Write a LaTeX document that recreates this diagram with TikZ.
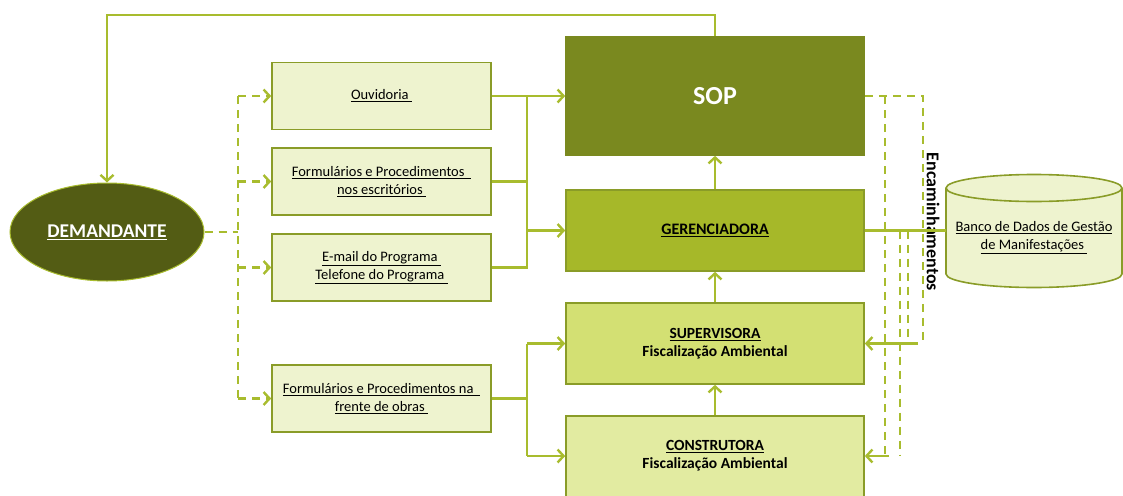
\documentclass[tikz,border=0pt]{standalone}
\usepackage{fontspec}
\setmainfont{Carlito}
\usetikzlibrary{arrows.meta,shapes.geometric}
\definecolor{ln}{HTML}{A8BC2E}
\definecolor{bd}{HTML}{8A9C28}
\definecolor{sopc}{HTML}{7A891F}
\definecolor{gerc}{HTML}{A6B829}
\definecolor{supc}{HTML}{D3E073}
\definecolor{conc}{HTML}{E2EBA1}
\definecolor{boxc}{HTML}{EEF3CF}
\definecolor{demc}{HTML}{535C14}
\tikzset{
  sl/.style={draw=ln, line width=2.4pt},
  dl/.style={draw=ln, line width=2.4pt, dash pattern=on 8pt off 6pt},
  tip/.style={-{Straight Barb[length=6pt,width=13pt,line width=2.4pt]}},
  smallbox/.style={rectangle, draw=bd, line width=1.6pt, fill=boxc, minimum width=219pt, minimum height=67pt, align=center, font=\fontsize{14.5}{18}\selectfont, inner sep=0pt},
  bigbox/.style={rectangle, draw=bd, line width=1.6pt, minimum width=298pt, minimum height=81pt, align=center, font=\bfseries\fontsize{15.5}{18}\selectfont, inner sep=0pt},
}
\newcommand{\ul}[1]{\underline{#1}}
\begin{document}
\begin{tikzpicture}[x=1pt,y=-1pt]
\useasboundingbox (0,0) rectangle (1123,495);
\clip (0,0) rectangle (1123,495);
% nodes
\node[bigbox, fill=sopc, draw=sopc, minimum height=118pt, text=white, font=\bfseries\fontsize{26}{30}\selectfont] (sop) at (715,96) {SOP};
\node[bigbox, fill=gerc, font=\bfseries\fontsize{16}{19}\selectfont] (ger) at (715,230.5) {\ul{GERENCIADORA}};
\node[bigbox, fill=supc] (sup) at (715,343.5) {\ul{SUPERVISORA}\\Fiscalização Ambiental};
\node[bigbox, fill=conc, minimum height=86pt] (con) at (715,459) {};
\node[align=center, font=\bfseries\fontsize{15.5}{18}\selectfont] (contxt) at (715,456) {\ul{CONSTRUTORA}\\Fiscalização Ambiental};
\node[smallbox] (ouv) at (381.5,96) {\ul{Ouvidoria\ }};
\node[smallbox] (fo1) at (381.5,181.5) {\ul{Formulários e Procedimentos\ \ }\\\ul{nos escritórios\ }};
\node[smallbox] (eml) at (381.5,267.5) {\ul{E-mail do Programa\ }\\\ul{Telefone do Programa\ }};
\node[smallbox] (fo2) at (381.5,398.5) {\ul{Formulários e Procedimentos na\ \ }\\\ul{frente de obras\ }};
\node[ellipse, fill=demc, draw=ln, line width=1pt, minimum width=194pt, minimum height=98pt, text=white, font=\bfseries\fontsize{19.5}{22}\selectfont, inner sep=0pt] (dem) at (107,232) {\ul{DEMANDANTE}};
% cylinder
\fill[boxc] (946,188) -- (946,274) arc (180:0:88 and 13.5) -- (1122,188) arc (0:-180:88 and 13.5) -- cycle;
\draw[bd, line width=1.6pt] (946,188) -- (946,274) arc (180:0:88 and 13.5) -- (1122,188) arc (0:-180:88 and 13.5) -- cycle;
\draw[bd, line width=1.6pt] (946,188) arc (180:0:88 and 13.5);
\node[align=center, font=\fontsize{14.5}{18}\selectfont] (db) at (1034,238) {\ul{Banco de Dados de Gestão}\\\ul{de Manifestações\ }};
\coordinate (dbw) at (946,230.5);
\node[rotate=-90, font=\bfseries\fontsize{18}{20}\selectfont] (enc) at (933,222) {Encaminhamentos};
% coordinates
\coordinate (topc) at (715,15);
\coordinate (lb) at (238,96);
\coordinate (lbb) at (238,398.5);
\coordinate (mj) at (527,96);
\coordinate (rA) at (885,96);
\coordinate (rD) at (923,96);
\coordinate (rB) at (900,230.5);
\coordinate (rC) at (908,230.5);
% top feedback
\draw[sl, tip] (sop.north) -- (topc) -| (dem.north);
% left dashed
\draw[dl] (dem.east) -- (dem.east -| lb);
\draw[dl] (lb) -- (lbb);
\draw[dl, tip] (lb) -- (ouv.west);
\draw[dl, tip] (fo1.west -| lb) -- (fo1.west);
\draw[dl, tip] (eml.west -| lb) -- (eml.west);
\draw[dl, tip] (lbb) -- (fo2.west);
% solid middle
\draw[sl, tip] (ouv.east) -- (sop.west);
\draw[sl] (mj) -- (mj |- eml.east) -- (eml.east);
\draw[sl] (fo1.east) -- (fo1.east -| mj);
\draw[sl, tip] (ger.west -| mj) -- (ger.west);
\draw[sl] (fo2.east) -- (fo2.east -| mj);
\draw[sl] (sup.west -| mj) -- (mj |- contxt);
\draw[sl, tip] (sup.west -| mj) -- (sup.west);
\draw[sl, tip] (mj |- contxt) -- (con.west |- contxt);
% vertical arrows
\draw[sl, tip] (ger.north) -- (sop.south);
\draw[sl, tip] (sup.north) -- (ger.south);
\draw[sl, tip] (con.north) -- (sup.south);
% right side
\draw[sl] (ger.east) -- (dbw);
\draw[dl] (sop.east) -- (rD) -- (rD |- 0,340);
\draw[dl] (rA) -- (rA |- 0,456);
\draw[dl] (rB) -- (rB |- 0,456);
\draw[dl] (rC) -- (rC |- 0,340);
\draw[sl, tip] (918,343.5) -- (sup.east);
\draw[sl, tip] (889,456) -- (con.east |- contxt);
\end{tikzpicture}
\end{document}
